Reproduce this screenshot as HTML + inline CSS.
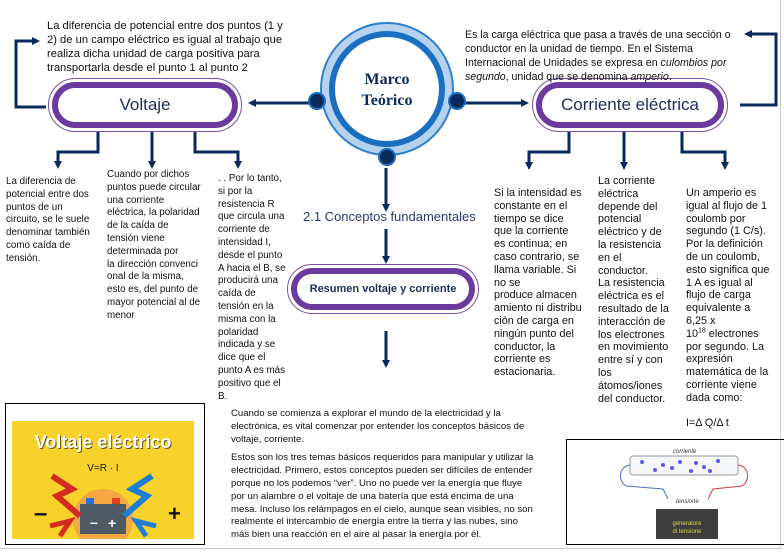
<!DOCTYPE html>
<html><head><meta charset="utf-8"><style>
body{margin:0;width:784px;height:552px;position:relative;background:#fff;font-family:"Liberation Sans",sans-serif;overflow:hidden;color:#111}
.t{position:absolute;font-size:10px;line-height:12.8px;color:#111;white-space:nowrap}
.pill{position:absolute;border:1px solid #7a4fa8;border-radius:30px;box-sizing:border-box}
.pill>div{position:absolute;left:3px;top:3px;right:3px;bottom:3px;border:6px solid #6a3a9e;border-radius:28px;display:flex;align-items:center;justify-content:center;color:#1f2e5a}
</style></head><body>
<div style="position:absolute;left:780px;top:0;width:1px;height:548px;background:#ccc"></div>
<div style="position:absolute;left:0;top:548px;width:781px;height:1px;background:#ccc"></div>

<svg width="784" height="552" style="position:absolute;left:0;top:0">
<defs><marker id="a" markerWidth="8" markerHeight="8" refX="4" refY="4" orient="auto" markerUnits="userSpaceOnUse"><path d="M0,0 L8,4 L0,8 Z" fill="#0b2a5c"/></marker></defs>
<g stroke="#0b2a5c" stroke-width="3" fill="none">
<polyline points="46,107 16,107 16,41 36,41" marker-end="url(#a)"/>
<line x1="315" y1="103" x2="252" y2="103" marker-end="url(#a)"/>
<line x1="462" y1="103" x2="525" y2="103" marker-end="url(#a)"/>
<polyline points="740,105 776,105 776,34 748,34" marker-end="url(#a)"/>
<polyline points="98,132 98,152 58,152 58,165" marker-end="url(#a)"/>
<line x1="152" y1="132" x2="152" y2="165" marker-end="url(#a)"/>
<polyline points="195,132 195,152 238,152 238,165" marker-end="url(#a)"/>
<polyline points="569,132 569,152 529,152 529,166" marker-end="url(#a)"/>
<line x1="624" y1="132" x2="624" y2="166" marker-end="url(#a)"/>
<polyline points="682,132 682,152 725,152 725,166" marker-end="url(#a)"/>
<line x1="386" y1="168" x2="386" y2="208" marker-end="url(#a)"/>
<line x1="386" y1="229" x2="386" y2="260" marker-end="url(#a)"/>
<line x1="386" y1="331" x2="386" y2="364" marker-end="url(#a)"/>
</g>
<circle cx="387" cy="89" r="66" fill="#b7d2ee" stroke="#2d7fd0" stroke-width="2"/>
<circle cx="387" cy="89" r="55" fill="#fff" stroke="#1a6fc0" stroke-width="6"/>
<circle cx="317" cy="101" r="8" fill="#0b2a5c" stroke="#1a6fc0" stroke-width="2"/>
<circle cx="457" cy="101" r="8" fill="#0b2a5c" stroke="#1a6fc0" stroke-width="2"/>
<circle cx="387" cy="157" r="8" fill="#0b2a5c" stroke="#1a6fc0" stroke-width="2"/>
<text x="387" y="84" text-anchor="middle" font-family="Liberation Serif,serif" font-weight="bold" font-size="16" fill="#0b2a5c">Marco</text>
<text x="387" y="105" text-anchor="middle" font-family="Liberation Serif,serif" font-weight="bold" font-size="16" fill="#0b2a5c">Teórico</text>
</svg>

<div class="pill" style="left:48px;top:78px;width:194px;height:54px"><div style="font-size:17px">Voltaje</div></div>
<div class="pill" style="left:532px;top:78px;width:196px;height:54px"><div style="font-size:17px">Corriente eléctrica</div></div>
<div class="pill" style="left:287px;top:264px;width:192px;height:50px"><div style="font-size:11px;font-weight:bold">Resumen voltaje y corriente</div></div>

<div class="t" style="left:303px;top:209px;font-size:13px;color:#2a3a6e;line-height:16px">2.1 Conceptos fundamentales</div>

<div class="t" style="left:47px;top:19px;font-size:11.2px;line-height:14px">La diferencia de potencial entre dos puntos (1 y<br>2) de un campo eléctrico es igual al trabajo que<br>realiza dicha unidad de carga positiva para<br>transportarla desde el punto 1 al punto 2</div>
<div class="t" style="left:465px;top:28px;font-size:10.6px;line-height:14px">Es la carga eléctrica que pasa a través de una sección o<br>conductor en la unidad de tiempo. En el Sistema<br>Internacional de Unidades se expresa en <i>culombios por</i><br><i>segundo</i>, unidad que se denomina <i>amperio</i>.</div>

<div class="t" style="left:6px;top:176px;font-size:9.8px;line-height:12.8px">La diferencia de<br>potencial entre dos<br>puntos de un<br>circuito, se le suele<br>denominar también<br>como caída de<br>tensión.</div>
<div class="t" style="left:107px;top:169px;font-size:9.8px;line-height:12.8px">Cuando por dichos<br>puntos puede circular<br>una corriente<br>eléctrica, la polaridad<br>de la caída de<br>tensión viene<br>determinada por<br>la dirección convenci<br>onal de la misma,<br>esto es, del punto de<br>mayor potencial al de<br>menor</div>
<div class="t" style="left:218px;top:173px;font-size:9.8px;line-height:12.8px">. . Por lo tanto,<br>si por la<br>resistencia R<br>que circula una<br>corriente de<br>intensidad I,<br>desde el punto<br>A hacia el B, se<br>producirá una<br>caída de<br>tensión en la<br>misma con la<br>polaridad<br>indicada y se<br>dice que el<br>punto A es más<br>positivo que el<br>B.</div>

<div class="t" style="left:494px;top:187px;font-size:10.8px;line-height:12.8px">Si la intensidad es<br>constante en el<br>tiempo se dice<br>que la corriente<br>es continua; en<br>caso contrario, se<br>llama variable. Si<br>no se<br>produce almacen<br>amiento ni distribu<br>ción de carga en<br>ningún punto del<br>conductor, la<br>corriente es<br>estacionaria.</div>
<div class="t" style="left:598px;top:175px;font-size:10.8px;line-height:12.8px">La corriente<br>eléctrica<br>depende del<br>potencial<br>eléctrico y de<br>la resistencia<br>en el<br>conductor.<br>La resistencia<br>eléctrica es el<br>resultado de la<br>interacción de<br>los electrones<br>en movimiento<br>entre sí y con<br>los<br>átomos/iones<br>del conductor.</div>
<div class="t" style="left:686px;top:187px;font-size:10.8px;line-height:12.8px">Un amperio es<br>igual al flujo de 1<br>coulomb por<br>segundo (1 C/s).<br>Por la definición<br>de un coulomb,<br>esto significa que<br>1 A es igual al<br>flujo de carga<br>equivalente a<br>6,25 x<br>10<sup style="font-size:7px;line-height:0">18</sup> electrones<br>por segundo. La<br>expresión<br>matemática de la<br>corriente viene<br>dada como:<br><br>I=Δ Q/Δ t</div>

<div class="t" style="left:231px;top:408px;font-size:9.6px;line-height:12.8px">Cuando se comienza a explorar el mundo de la electricidad y la<br>electrónica, es vital comenzar por entender los conceptos básicos de<br>voltaje, corriente.<div style="height:6px"></div>Estos son los tres temas básicos requeridos para manipular y utilizar la<br>electricidad. Primero, estos conceptos pueden ser difíciles de entender<br>porque no los podemos “ver”. Uno no puede ver la energía que fluye<br>por un alambre o el voltaje de una batería que está encima de una<br>mesa. Incluso los relámpagos en el cielo, aunque sean visibles, no son<br>realmente el intercambio de energía entre la tierra y las nubes, sino<br>más bien una reacción en el aire al pasar la energía por él.</div>

<div style="position:absolute;left:5px;top:403px;width:198px;height:140px;border:1px solid #000"></div>
<svg width="182" height="118" style="position:absolute;left:12px;top:421px">
<rect width="182" height="118" fill="#f7d22a"/>
<text x="92" y="28" text-anchor="middle" font-family="Liberation Sans" font-weight="bold" font-size="18" fill="#6a5a20">Voltaje eléctrico</text>
<text x="91" y="27" text-anchor="middle" font-family="Liberation Sans" font-weight="bold" font-size="18" fill="#fff">Voltaje eléctrico</text>
<text x="91" y="50" text-anchor="middle" font-size="10" font-family="Liberation Sans" fill="#222">V=R · I</text>
<circle cx="91" cy="98" r="30" fill="#f3a843"/>
<rect x="68" y="83" width="46" height="30" fill="#4d5a63"/>
<rect x="74" y="77" width="8" height="6" fill="#2a6de0"/><rect x="100" y="77" width="8" height="6" fill="#e04020"/>
<text x="78" y="106" font-size="14" fill="#fff" font-weight="bold">–</text><text x="96" y="107" font-size="14" fill="#fff" font-weight="bold">+</text>
<path d="M40,55 L60,68 L45,75 L68,95" stroke="#d52a20" stroke-width="6" fill="none"/>
<path d="M140,55 L120,68 L135,75 L112,95" stroke="#1c7ed6" stroke-width="6" fill="none"/>
<path d="M38,105 L58,100 L48,115" stroke="#d52a20" stroke-width="5" fill="none"/>
<path d="M144,105 L124,100 L134,115" stroke="#1c7ed6" stroke-width="5" fill="none"/>
<text x="22" y="100" font-size="24" font-weight="bold" fill="#111">–</text><text x="156" y="100" font-size="22" font-weight="bold" fill="#111">+</text>
</svg>

<div style="position:absolute;left:566px;top:439px;width:220px;height:106px;border:1px solid #000;box-sizing:border-box"></div>
<svg width="210" height="100" style="position:absolute;left:568px;top:441px">
<rect x="62" y="15" width="108" height="19" rx="3" fill="#f4f6f8" stroke="#999"/>
<text x="105" y="12" font-size="6" font-style="italic" fill="#333">corriente</text>
<path d="M62,24 C50,26 50,40 58,45 L95,48 L100,58" stroke="#4a70d0" stroke-width="1" fill="none"/>
<path d="M170,24 C182,26 182,40 174,45 L145,48 L140,58" stroke="#d04040" stroke-width="1" fill="none"/>
<g fill="#5a5af0"><circle cx="74" cy="21" r="2"/><circle cx="95" cy="24" r="2"/><circle cx="112" cy="21" r="2"/><circle cx="128" cy="22" r="2"/><circle cx="150" cy="20" r="2"/><circle cx="87" cy="29" r="2"/><circle cx="104" cy="27" r="2"/><circle cx="123" cy="30" r="2"/><circle cx="136" cy="26" r="2"/><circle cx="142" cy="30" r="2"/></g>
<text x="108" y="62" font-size="6" font-style="italic" fill="#333">tensione</text>
<rect x="88" y="68" width="62" height="30" fill="#3d3d3d"/>
<text x="119" y="84" text-anchor="middle" font-size="6" fill="#d8d840">generatore</text>
<text x="119" y="92" text-anchor="middle" font-size="6" fill="#d8d840">di tensione</text>
</svg>
</body></html>
